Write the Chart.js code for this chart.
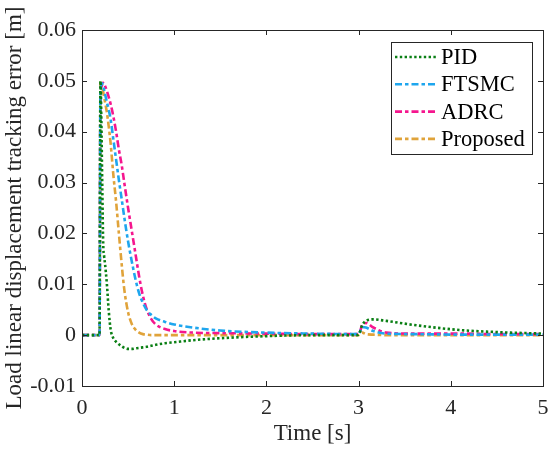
<!DOCTYPE html>
<html>
<head>
<meta charset="utf-8">
<script src="https://cdn.jsdelivr.net/npm/chart.js@4.4.1/dist/chart.umd.min.js"></script>
<style>
  html, body { margin: 0; padding: 0; background: #fff; }
  canvas { display: block; }
</style>
</head>
<body>
<canvas id="myChart" width="550" height="450"></canvas>
<script>
const ctx = document.getElementById('myChart');

// time grid [s], denser around the step at 0.2 s and the disturbance at 3 s
const timeS = [0, 0.19, 0.2, 0.21, 0.22, 0.23, 0.24, 0.25, 0.27, 0.29, 0.31, 0.34, 0.37, 0.4, 0.43, 0.46,
    0.5, 0.54, 0.58, 0.62, 0.66, 0.7, 0.75, 0.8, 0.9, 1.0, 1.2, 1.5, 2.0, 2.5, 2.98, 3.0, 3.04, 3.08,
    3.16, 3.3, 3.6, 4.1, 4.5, 5.0];

// tracking error [m]
const pidErr = [0, 0, 0.0500, 0.0420, 0.0290, 0.0180, 0.0155, 0.0140, 0.0100, 0.0048, 0.0012, -0.0006,
    -0.0013, -0.0018, -0.0022, -0.0025, -0.0027, -0.0027, -0.0026, -0.0025, -0.0024, -0.0023, -0.0021,
    -0.0019, -0.0016, -0.0014, -0.0010, -0.0006, -0.0002, 0, 0, 0.0001, 0.0020, 0.0028, 0.0031, 0.0028,
    0.0020, 0.0010, 0.0006, 0.0003];
const ftsmcErr = [0, 0, 0.0480, 0.0492, 0.0495, 0.0490, 0.0482, 0.0474, 0.0458, 0.0443, 0.0425, 0.0385,
    0.0345, 0.0305, 0.0268, 0.0230, 0.0184, 0.0145, 0.0110, 0.0082, 0.0064, 0.0050, 0.0040, 0.0033,
    0.0026, 0.0021, 0.0015, 0.0009, 0.0005, 0.0003, 0.0002, 0.0002, 0.0016, 0.0015, 0.0008, 0.0003,
    0.0002, 0.0001, 0.0001, 0.0001];
const adrcErr = [0, 0, 0.0470, 0.0488, 0.0495, 0.0496, 0.0493, 0.0490, 0.0480, 0.0468, 0.0455, 0.0430,
    0.0400, 0.0365, 0.0335, 0.0298, 0.0250, 0.0205, 0.0160, 0.0115, 0.0078, 0.0052, 0.0032, 0.0021,
    0.0012, 0.0008, 0.0005, 0.0004, 0.0003, 0.0002, 0.0002, 0.0002, 0.0020, 0.0024, 0.0015, 0.0005,
    0.0003, 0.0003, 0.0002, 0.0002];
const proposedErr = [0, 0, 0.0500, 0.0496, 0.0488, 0.0478, 0.0468, 0.0458, 0.0438, 0.0410, 0.0378, 0.0315,
    0.0262, 0.0200, 0.0140, 0.0088, 0.0045, 0.0022, 0.0011, 0.0005, 0.0002, 0.0001, 0, 0,
    0, 0, 0, 0, 0, 0, 0, 0, 0.0005, 0.0002, 0.0001, 0,
    0, 0, 0, 0];

const seriesNames = ['PID', 'FTSMC', 'ADRC', 'Proposed'];
const xTicks = [0, 1, 2, 3, 4, 5];
const yTicks = [-0.01, 0, 0.01, 0.02, 0.03, 0.04, 0.05, 0.06];

const FONT = 'Liberation Serif';
const INK = '#262626';

function toPoints(values) {
    return timeS.map((t, i) => ({ x: t, y: values[i] }));
}

function tickLabel(v) {
    const r = Math.round(v * 100) / 100;
    return r === 0 ? '0' : String(r);
}

// MATLAB style box with inward ticks, plus the legend in the upper right
const axesBox = {
    id: 'axesBox',
    afterDraw(chart) {
        const c = chart.ctx;
        const a = chart.chartArea;
        const xs = chart.scales.x, ys = chart.scales.y;
        c.save();
        c.strokeStyle = INK;
        c.lineWidth = 1;
        c.strokeRect(a.left + 0.5, a.top + 0.5, a.right - a.left, a.bottom - a.top);
        c.beginPath();
        xTicks.forEach(v => {
            const px = Math.round(xs.getPixelForValue(v)) + 0.5;
            c.moveTo(px, a.bottom); c.lineTo(px, a.bottom - 5);
            c.moveTo(px, a.top); c.lineTo(px, a.top + 5);
        });
        yTicks.forEach(v => {
            const py = Math.round(ys.getPixelForValue(v)) + 0.5;
            c.moveTo(a.left, py); c.lineTo(a.left + 5, py);
            c.moveTo(a.right, py); c.lineTo(a.right - 5, py);
        });
        c.stroke();

        // legend
        const lx = 391, ly = 42, lw = 141, lh = 112;
        c.fillStyle = '#fff';
        c.fillRect(lx, ly, lw, lh);
        c.strokeStyle = INK;
        c.strokeRect(lx + 0.5, ly + 0.5, lw, lh);
        c.font = '22.5px "' + FONT + '"';
        c.textBaseline = 'middle';
        chart.data.datasets.forEach((ds, i) => {
            const y = ly + 15 + i * 27.3;
            c.strokeStyle = ds.borderColor;
            c.lineWidth = ds.borderWidth;
            c.setLineDash(ds.borderDash);
            c.beginPath();
            c.moveTo(lx + 4, y); c.lineTo(lx + 46, y);
            c.stroke();
            c.setLineDash([]);
            c.fillStyle = '#000';
            c.fillText(ds.label, lx + 50, y + 1);
        });
        c.restore();
    }
};

const lineStyle = [
    { color: '#0a7f14', dash: [2.4, 2.4] },
    { color: '#1ea6ee', dash: [7, 3, 3.5, 3] },
    { color: '#f5168e', dash: [7, 3, 3.5, 3] },
    { color: '#e0a33a', dash: [7, 3, 3.5, 3] }
];

const errors = [pidErr, ftsmcErr, adrcErr, proposedErr];

const chart = new Chart(ctx, {
    type: 'line',
    data: {
        datasets: seriesNames.map((name, i) => ({
            label: name,
            data: toPoints(errors[i]),
            borderColor: lineStyle[i].color,
            borderDash: lineStyle[i].dash,
            borderWidth: 2.6,
            pointRadius: 0,
            fill: false,
            cubicInterpolationMode: 'monotone'
        }))
    },
    options: {
        responsive: false,
        animation: false,
        devicePixelRatio: 1,
        layout: { padding: { top: 30, right: 7, left: 0, bottom: 0 } },
        plugins: { legend: { display: false }, tooltip: { enabled: false } },
        scales: {
            x: {
                type: 'linear',
                min: 0, max: 5,
                grid: { display: false, drawTicks: false },
                border: { display: false },
                afterBuildTicks: s => { s.ticks = xTicks.map(v => ({ value: v })); },
                afterFit: s => { s.height = 64; s.paddingLeft = 0; s.paddingRight = 0; },
                ticks: {
                    color: INK, padding: 9,
                    font: { family: FONT, size: 22 },
                    callback: v => String(v)
                },
                title: {
                    display: true, text: 'Time [s]', color: INK,
                    font: { family: FONT, size: 23 },
                    padding: { top: 0, bottom: 2 }
                }
            },
            y: {
                min: -0.01, max: 0.06,
                grid: { display: false, drawTicks: false },
                border: { display: false },
                afterBuildTicks: s => { s.ticks = yTicks.map(v => ({ value: v })); },
                afterFit: s => { s.width = 82; s.paddingTop = 0; s.paddingBottom = 0; },
                ticks: {
                    color: INK, padding: 6,
                    font: { family: FONT, size: 22 },
                    callback: v => tickLabel(v)
                },
                title: {
                    display: true, text: 'Load linear displacement tracking error [m]', color: INK,
                    font: { family: FONT, size: 23 },
                    padding: { top: 1, bottom: 0 }
                }
            }
        }
    },
    plugins: [axesBox]
});
</script>
</body>
</html>
